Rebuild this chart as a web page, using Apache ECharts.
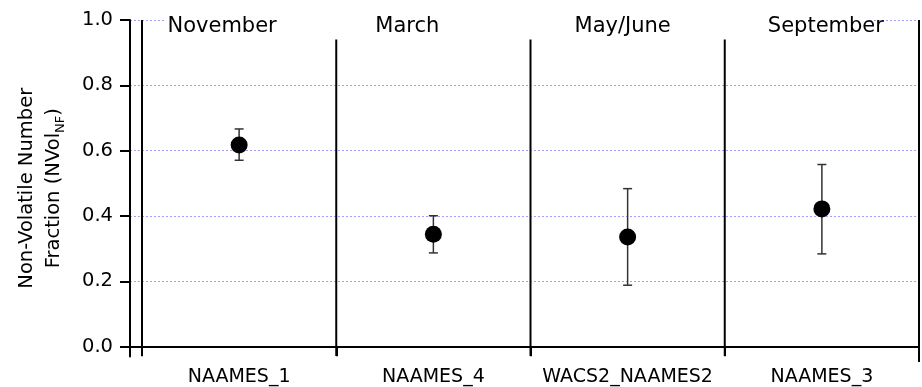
<!DOCTYPE html>
<html>
<head>
<meta charset="utf-8">
<script src="https://cdn.jsdelivr.net/npm/echarts@6/dist/echarts.min.js"></script>
<style>html,body{margin:0;padding:0;background:#fff;}#c{width:922px;height:387px;}</style>
</head>
<body>
<div id="c"></div>
<script>
const seasons = ['November', 'March', 'May/June', 'September'];
const campaigns = ['NAAMES_1', 'NAAMES_4', 'WACS2_NAAMES2', 'NAAMES_3'];
const nvfMean = [0.617, 0.343, 0.335, 0.421];
const nvfLow = [0.570, 0.286, 0.187, 0.283];
const nvfHigh = [0.666, 0.400, 0.483, 0.557];
const yTicks = [0, 0.2, 0.4, 0.6, 0.8, 1.0];

// layout constants
const Y_MIN = -0.03, Y_MAX = 1.0, SEP_TOP = 0.94;
const FONT = 'DejaVu Sans';
const seasonLabelDx = [-17, -26, -5, 4];

const chart = echarts.init(document.getElementById('c'), null, {renderer: 'canvas'});

const option = {
  animation: false,
  backgroundColor: '#fff',
  grid: [
    {left: 130, right: 3, top: 20, bottom: 30.5},
    {left: 142, right: 3, top: 20, bottom: 30.5}
  ],
  xAxis: [
    {gridIndex: 0, type: 'value', min: 0, max: 1,
     axisLine: {show: true, lineStyle: {color: '#000', width: 2}},
     axisTick: {show: false}, axisLabel: {show: false}, splitLine: {show: false}},
    {gridIndex: 1, type: 'category', data: campaigns, position: 'bottom',
     axisLine: {show: false},
     axisTick: {show: true, length: 10, lineStyle: {color: '#000', width: 2}},
     axisLabel: {interval: 0, hideOverlap: false, color: '#000', fontSize: 19, fontFamily: FONT, margin: 12},
     splitLine: {show: false}}
  ],
  yAxis: [
    {gridIndex: 0, type: 'value', min: Y_MIN, max: Y_MAX,
     name: '{a|Non-Volatile Number}\n{a|Fraction (NVol}{s|NF}{a|)}',
     nameLocation: 'middle', nameRotate: 90, nameGap: 63,
     nameTextStyle: {
       color: '#000', fontFamily: FONT, align: 'center',
       rich: {
         a: {fontSize: 19.5, fontFamily: FONT, color: '#000', lineHeight: 27},
         s: {fontSize: 13, fontFamily: FONT, color: '#000', lineHeight: 27, verticalAlign: 'bottom', padding: [10, 0, 0, 0]}
       }
     },
     axisLine: {show: true, lineStyle: {color: '#000', width: 2}},
     axisTick: {show: true, length: 10, customValues: yTicks, lineStyle: {color: '#000', width: 2}},
     axisLabel: {customValues: yTicks, color: '#000', fontSize: 19.5, fontFamily: FONT, margin: 17,
                 formatter: v => v.toFixed(1)},
     splitLine: {show: true, lineStyle: {color: '#a0a0f5', type: [2, 2], width: 1}}},
    {gridIndex: 1, type: 'value', min: Y_MIN, max: Y_MAX, show: false}
  ],
  series: [
    {
      // panel separators and season titles
      type: 'custom', xAxisIndex: 1, yAxisIndex: 1, clip: false, z: 3,
      data: seasons.map((s, i) => [i, s]),
      renderItem: function (params, api) {
        const i = api.value(0);
        const bw = api.size([1, 0])[0];
        const cx = api.coord([i, 0])[0];
        const xl = cx - bw / 2;
        const yb = api.coord([i, Y_MIN])[1];
        const yTop = api.coord([i, Y_MAX])[1];
        const yt = api.coord([i, i === 0 ? Y_MAX : SEP_TOP])[1];
        const last = i === seasons.length - 1;
        const children = [];
        // white band masking the top gridline behind the titles
        children.push({type: 'rect',
                       shape: {x: i === 0 ? xl + 24 : xl - 2, y: yTop - 2,
                               width: last ? bw - 48 : (i === 0 ? bw - 22 : bw + 4), height: 4},
                       style: {fill: '#fff'}, z2: 1});
        children.push({type: 'line', shape: {x1: xl, y1: yt, x2: xl, y2: yb},
                       style: {stroke: '#000', lineWidth: 2}, z2: 2});
        if (last) {
          const xr = cx + bw / 2;
          children.push({type: 'line', shape: {x1: xr, y1: yTop, x2: xr, y2: yb + 6},
                         style: {stroke: '#000', lineWidth: 2}, z2: 2});
        }
        children.push({type: 'text', x: cx + seasonLabelDx[i], y: yTop + 7, z2: 3,
                       style: {text: seasons[i], fill: '#000', font: '21px "DejaVu Sans"',
                               align: 'center', verticalAlign: 'middle'}});
        return {type: 'group', children: children};
      }
    },
    {
      type: 'custom', xAxisIndex: 1, yAxisIndex: 1, z: 4,
      data: campaigns.map((c, i) => [i, nvfLow[i], nvfHigh[i]]),
      encode: {x: 0, y: [1, 2]},
      renderItem: function (params, api) {
        const i = api.value(0);
        const lo = api.coord([i, api.value(1)]);
        const hi = api.coord([i, api.value(2)]);
        const x = lo[0], h = 4.5;
        const st = {stroke: '#333', lineWidth: 1.5};
        return {type: 'group', children: [
          {type: 'line', shape: {x1: x, y1: lo[1], x2: x, y2: hi[1]}, style: st},
          {type: 'line', shape: {x1: x - h, y1: lo[1], x2: x + h, y2: lo[1]}, style: st},
          {type: 'line', shape: {x1: x - h, y1: hi[1], x2: x + h, y2: hi[1]}, style: st}
        ]};
      }
    },
    {
      type: 'scatter', xAxisIndex: 1, yAxisIndex: 1, z: 5,
      symbol: 'circle', symbolSize: 17,
      itemStyle: {color: '#000', opacity: 1},
      data: campaigns.map((c, i) => [i, nvfMean[i]])
    }
  ]
};
chart.setOption(option);
</script>
</body>
</html>
